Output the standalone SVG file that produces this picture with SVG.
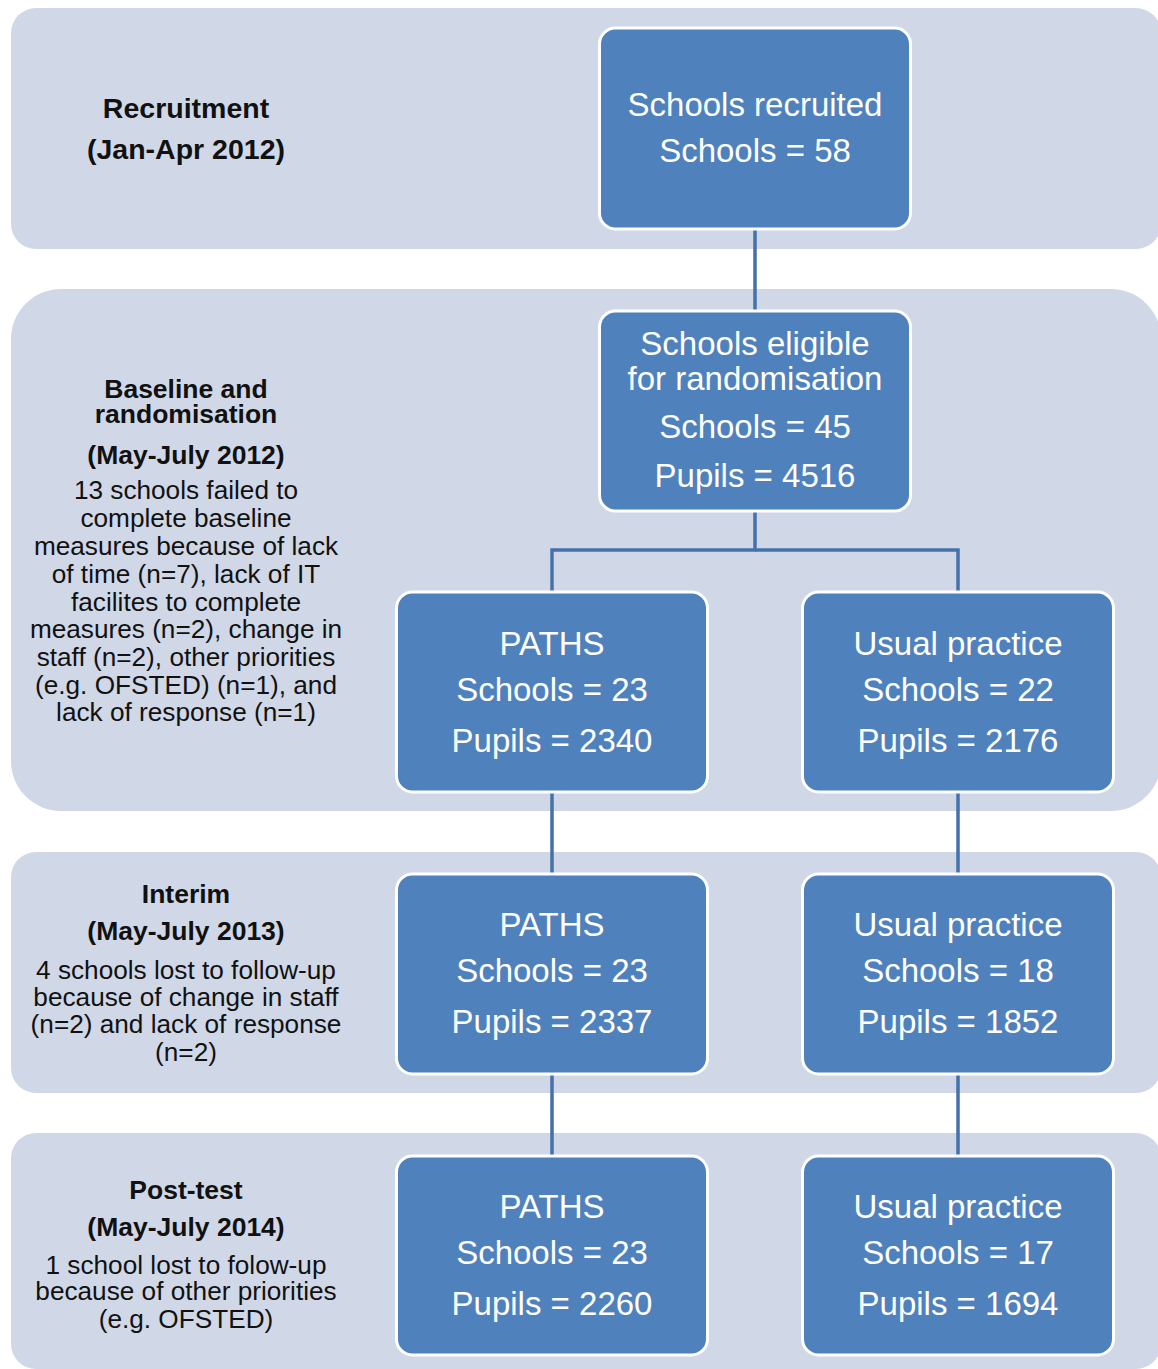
<svg xmlns="http://www.w3.org/2000/svg" width="1158" height="1369" viewBox="0 0 1158 1369">
<style>
.band{fill:#D0D8E8}
.box{fill:#4F81BD;stroke:#FFFFFF;stroke-width:3}
.bt{font-family:"Liberation Sans",Arial,sans-serif;font-size:33px;fill:#FFFFFF;text-anchor:middle}
.lh{font-family:"Liberation Sans",Arial,sans-serif;font-size:26.5px;font-weight:bold;fill:#111;text-anchor:middle}
.lt{font-family:"Liberation Sans",Arial,sans-serif;font-size:26.2px;fill:#111;text-anchor:middle}
.con{fill:none;stroke:#4471AC;stroke-width:3.5}
</style>
<rect width="1158" height="1369" fill="#FFFFFF"/>
<g id="bands">
<rect class="band" x="11" y="8" width="1150" height="241" rx="25"/>
<rect class="band" x="11" y="289" width="1150" height="522" rx="50"/>
<rect class="band" x="11" y="852" width="1150" height="241" rx="25"/>
<rect class="band" x="11" y="1133" width="1150" height="236" rx="25"/>
</g>
<g id="connectors">
<line class="con" x1="755" y1="229" x2="755" y2="311"/>
<polyline class="con" points="755,511 755,550 552,550 552,592"/>
<polyline class="con" points="755,550 958,550 958,592"/>
<line class="con" x1="552" y1="792" x2="552" y2="874"/>
<line class="con" x1="958" y1="792" x2="958" y2="874"/>
<line class="con" x1="552" y1="1074" x2="552" y2="1156"/>
<line class="con" x1="958" y1="1074" x2="958" y2="1156"/>
</g>
<g id="label-recruitment">
<text class="lh" x="186" y="118" style="font-size:28.5px">Recruitment</text>
<text class="lh" x="186" y="159" style="font-size:28.5px">(Jan-Apr 2012)</text>
</g>
<g id="label-baseline">
<text class="lh" x="186" y="398">Baseline and</text>
<text class="lh" x="186" y="423">randomisation</text>
<text class="lh" x="186" y="464">(May-July 2012)</text>
<text class="lt" x="186" y="499">13 schools failed to</text>
<text class="lt" x="186" y="527">complete baseline</text>
<text class="lt" x="186" y="555">measures because of lack</text>
<text class="lt" x="186" y="583">of time (n=7), lack of IT</text>
<text class="lt" x="186" y="611">facilites to complete</text>
<text class="lt" x="186" y="638">measures (n=2), change in</text>
<text class="lt" x="186" y="666">staff (n=2), other priorities</text>
<text class="lt" x="186" y="694">(e.g. OFSTED) (n=1), and</text>
<text class="lt" x="186" y="721">lack of response (n=1)</text>
</g>
<g id="label-interim">
<text class="lh" x="186" y="903">Interim</text>
<text class="lh" x="186" y="940">(May-July 2013)</text>
<text class="lt" x="186" y="979">4 schools lost to follow-up</text>
<text class="lt" x="186" y="1006">because of change in staff</text>
<text class="lt" x="186" y="1033">(n=2) and lack of response</text>
<text class="lt" x="186" y="1061">(n=2)</text>
</g>
<g id="label-posttest">
<text class="lh" x="186" y="1199">Post-test</text>
<text class="lh" x="186" y="1236">(May-July 2014)</text>
<text class="lt" x="186" y="1274">1 school lost to folow-up</text>
<text class="lt" x="186" y="1300">because of other priorities</text>
<text class="lt" x="186" y="1328">(e.g. OFSTED)</text>
</g>
<g id="node-recruited">
<rect class="box" x="599.5" y="28" width="311" height="201" rx="16"/>
<text class="bt" x="755" y="116">Schools recruited</text>
<text class="bt" x="755" y="162">Schools = 58</text>
</g>
<g id="node-eligible">
<rect class="box" x="599.5" y="311" width="311" height="200" rx="16"/>
<text class="bt" x="755" y="355">Schools eligible</text>
<text class="bt" x="755" y="390">for randomisation</text>
<text class="bt" x="755" y="438">Schools = 45</text>
<text class="bt" x="755" y="487">Pupils = 4516</text>
</g>
<g id="node-paths-1">
<rect class="box" x="396.5" y="592" width="311" height="200" rx="16"/>
<text class="bt" x="552" y="655">PATHS</text>
<text class="bt" x="552" y="701">Schools = 23</text>
<text class="bt" x="552" y="752">Pupils = 2340</text>
</g>
<g id="node-usual-1">
<rect class="box" x="802.5" y="592" width="311" height="200" rx="16"/>
<text class="bt" x="958" y="655">Usual practice</text>
<text class="bt" x="958" y="701">Schools = 22</text>
<text class="bt" x="958" y="752">Pupils = 2176</text>
</g>
<g id="node-paths-2">
<rect class="box" x="396.5" y="874" width="311" height="200" rx="16"/>
<text class="bt" x="552" y="936">PATHS</text>
<text class="bt" x="552" y="982">Schools = 23</text>
<text class="bt" x="552" y="1033">Pupils = 2337</text>
</g>
<g id="node-usual-2">
<rect class="box" x="802.5" y="874" width="311" height="200" rx="16"/>
<text class="bt" x="958" y="936">Usual practice</text>
<text class="bt" x="958" y="982">Schools = 18</text>
<text class="bt" x="958" y="1033">Pupils = 1852</text>
</g>
<g id="node-paths-3">
<rect class="box" x="396.5" y="1156" width="311" height="199" rx="16"/>
<text class="bt" x="552" y="1218">PATHS</text>
<text class="bt" x="552" y="1264">Schools = 23</text>
<text class="bt" x="552" y="1315">Pupils = 2260</text>
</g>
<g id="node-usual-3">
<rect class="box" x="802.5" y="1156" width="311" height="199" rx="16"/>
<text class="bt" x="958" y="1218">Usual practice</text>
<text class="bt" x="958" y="1264">Schools = 17</text>
<text class="bt" x="958" y="1315">Pupils = 1694</text>
</g>
</svg>
